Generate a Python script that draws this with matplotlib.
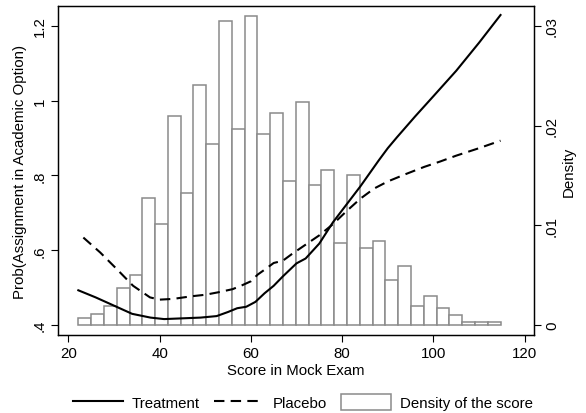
import numpy as np
import matplotlib
matplotlib.use("Agg")
import matplotlib.pyplot as plt
from matplotlib.lines import Line2D
from matplotlib.patches import Patch

plt.rcParams['font.family'] = ['Liberation Sans', 'DejaVu Sans']

# histogram of the mock exam score (density per bin)
BIN_START = 22.2
BIN_WIDTH = 2.803
density = [0.00067, 0.00107, 0.00187, 0.00373, 0.00507, 0.0127, 0.0101,
           0.02097, 0.01323, 0.02407, 0.01813, 0.0305, 0.01967, 0.03103,
           0.01913, 0.0213, 0.0144, 0.02233, 0.01403, 0.01557, 0.00827,
           0.01507, 0.00777, 0.00847, 0.00453, 0.00593, 0.00187, 0.00287,
           0.00167, 0.001, 0.00033, 0.00033, 0.00033]

# smoothed probability curves
treat_x = [22.2, 26, 30, 34, 38, 41, 45, 49, 52.5, 55, 57, 59, 61, 63, 65,
           67, 70, 72, 75, 78, 81, 84, 88, 90, 92, 96, 100, 105, 110, 114.7]
treat_p = [0.493, 0.474, 0.452, 0.43, 0.42, 0.416, 0.418, 0.42, 0.424, 0.435,
           0.445, 0.449, 0.462, 0.485, 0.505, 0.53, 0.565, 0.578, 0.618,
           0.675, 0.723, 0.771, 0.84, 0.873, 0.902, 0.958, 1.012, 1.08,
           1.155, 1.229]

plac_x = [23.3, 27, 30.6, 34.2, 37.9, 40, 43, 47, 50, 53, 56, 58, 60, 61.5,
          63, 65, 67, 69, 72, 75, 78, 81, 84, 87, 90, 94, 98, 101.4, 105,
          110, 114.7]
plac_p = [0.634, 0.594, 0.55, 0.505, 0.474, 0.468, 0.47, 0.477, 0.481,
          0.488, 0.496, 0.506, 0.517, 0.535, 0.548, 0.566, 0.572, 0.59,
          0.615, 0.64, 0.67, 0.705, 0.738, 0.765, 0.784, 0.804, 0.823,
          0.837, 0.853, 0.873, 0.893]

left_ticks = [0.4, 0.6, 0.8, 1.0, 1.2]
left_labels = ['.4', '.6', '.8', '1', '1.2']
right_ticks = [0, 0.01, 0.02, 0.03]
right_labels = ['0', '.01', '.02', '.03']
x_ticks = [20, 40, 60, 80, 100, 120]

FS = 10.8
fig = plt.figure(figsize=(5.86, 4.14), dpi=100)
ax = fig.add_axes([0.099, 0.188, 0.812, 0.795])
ax2 = ax.twinx()

# bars on the density axis
lefts = BIN_START + BIN_WIDTH * np.arange(len(density))
ax2.bar(lefts, density, width=BIN_WIDTH, align='edge', color='white',
        edgecolor='#8a8a8a', linewidth=1.1)

ax.plot(treat_x, treat_p, color='black', lw=1.5)
ax.plot(plac_x, plac_p, color='black', lw=1.5, ls=(0, (5, 3)))
ax.set_zorder(ax2.get_zorder() + 1)
ax.patch.set_visible(False)

ylo, yhi = 0.373, 1.253
ax.set_ylim(ylo, yhi)
ax2.set_ylim((ylo - 0.4) * 0.0375, (yhi - 0.4) * 0.0375)
ax.set_xlim(17.75, 122)

ax.set_xticks(x_ticks)
ax.set_yticks(left_ticks)
ax.set_yticklabels(left_labels, rotation=90, va='center')
ax2.set_yticks(right_ticks)
ax2.set_yticklabels(right_labels, rotation=90, va='center')
for a in (ax, ax2):
    a.tick_params(labelsize=FS, length=5, width=0.8, direction='out', pad=3)
    for s in a.spines.values():
        s.set_linewidth(0.9)

ax.set_xlabel('Score in Mock Exam', fontsize=FS, labelpad=2)
ax.set_ylabel('Prob(Assignment in Academic Option)', fontsize=FS, labelpad=4)
ax2.set_ylabel('Density', fontsize=FS, rotation=90, labelpad=2)

handles = [Line2D([], [], color='black', lw=1.5),
           Line2D([], [], color='black', lw=1.5, ls=(0, (5, 3))),
           Patch(facecolor='white', edgecolor='#8a8a8a', linewidth=1.1)]
fig.legend(handles, ['Treatment', 'Placebo', 'Density of the score'],
           loc='lower center', bbox_to_anchor=(0.517, -0.026), ncol=3,
           frameon=False, fontsize=FS, handlelength=3.3, handleheight=1.3,
           columnspacing=0.95, handletextpad=0.6)

fig.savefig('out.png', dpi=100)
